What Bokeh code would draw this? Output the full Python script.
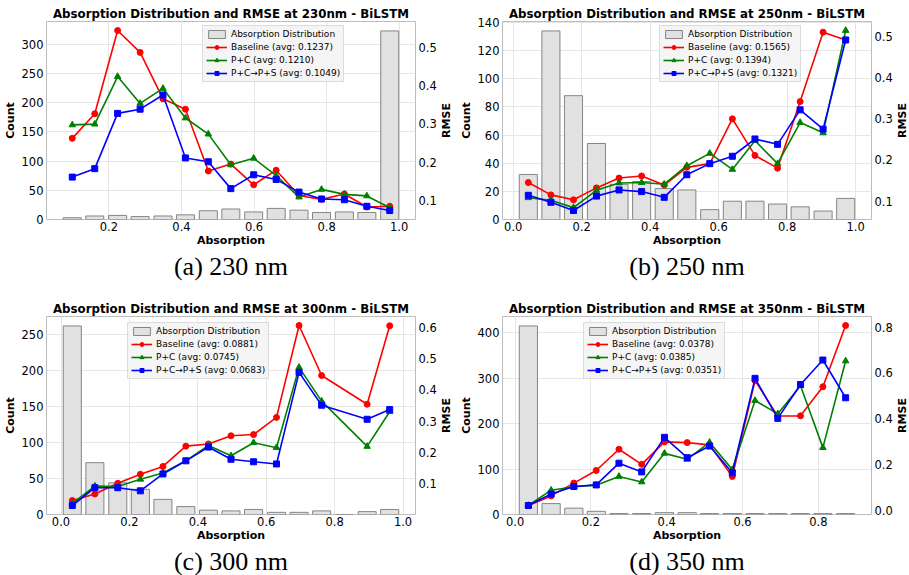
import math
from bokeh.plotting import figure
from bokeh.models import Range1d, LinearAxis, SingleIntervalTicker, Title, PrintfTickFormatter
from bokeh.core.properties import value
from bokeh.layouts import gridplot
from bokeh.embed import file_html
from bokeh.resources import INLINE

# ---------------- data ----------------
# (a) 230 nm
a_x = [0.099, 0.161, 0.224, 0.286, 0.349, 0.411, 0.474, 0.536, 0.599, 0.661, 0.724, 0.786, 0.849, 0.911, 0.974]
a_count = [3, 6, 7, 5, 6, 8, 15, 18, 13, 19, 16, 12, 13, 12, 323]
a_baseline = [0.262, 0.326, 0.543, 0.486, 0.365, 0.338, 0.177, 0.195, 0.141, 0.179, 0.113, 0.103, 0.117, 0.083, 0.085]
a_pc = [0.297, 0.299, 0.423, 0.353, 0.392, 0.315, 0.273, 0.193, 0.210, 0.165, 0.109, 0.129, 0.116, 0.112, 0.081]
a_pcps = [0.161, 0.183, 0.327, 0.338, 0.375, 0.211, 0.201, 0.131, 0.167, 0.155, 0.122, 0.104, 0.102, 0.085, 0.074]
a_avg = ["0.1237", "0.1210", "0.1049"]

# (b) 250 nm
b_x = [0.044, 0.110, 0.176, 0.243, 0.309, 0.375, 0.441, 0.507, 0.574, 0.640, 0.706, 0.772, 0.838, 0.905, 0.971]
b_count = [32, 134, 88, 54, 25, 27, 22, 21, 7, 13, 13, 11, 9, 6, 15]
b_baseline = [0.145, 0.115, 0.103, 0.132, 0.156, 0.161, 0.139, 0.182, 0.191, 0.300, 0.211, 0.180, 0.342, 0.511, 0.492]
b_pc = [0.108, 0.102, 0.084, 0.126, 0.144, 0.145, 0.141, 0.186, 0.216, 0.177, 0.247, 0.191, 0.291, 0.266, 0.515]
b_pcps = [0.114, 0.097, 0.077, 0.112, 0.127, 0.123, 0.109, 0.164, 0.191, 0.209, 0.251, 0.238, 0.322, 0.275, 0.492]
b_avg = ["0.1565", "0.1394", "0.1321"]

# (c) 300 nm  (bin at 0.829 is empty: no RMSE values)
nan = float("nan")
c_x = [0.033, 0.099, 0.166, 0.232, 0.298, 0.365, 0.431, 0.497, 0.563, 0.630, 0.696, 0.762, 0.829, 0.895, 0.961]
c_count = [262, 72, 44, 35, 21, 11, 6, 5, 7, 3, 3, 5, 0, 4, 7]
c_baseline = [0.046, 0.067, 0.101, 0.130, 0.155, 0.220, 0.227, 0.253, 0.257, 0.312, 0.606, 0.446, nan, 0.354, 0.605]
c_pc = [0.037, 0.092, 0.091, 0.114, 0.134, 0.173, 0.222, 0.189, 0.231, 0.215, 0.472, 0.364, nan, 0.219, 0.330]
c_pcps = [0.030, 0.087, 0.087, 0.077, 0.131, 0.173, 0.217, 0.178, 0.170, 0.163, 0.456, 0.351, nan, 0.306, 0.337]
c_avg = ["0.0881", "0.0745", "0.0683"]

# (d) 350 nm
d_x = [0.035, 0.095, 0.155, 0.214, 0.274, 0.334, 0.394, 0.454, 0.513, 0.573, 0.633, 0.693, 0.753, 0.812, 0.872]
d_count = [415, 24, 14, 7, 2, 2, 4, 4, 2, 2, 2, 2, 2, 2, 2]
d_baseline = [0.020, 0.062, 0.118, 0.173, 0.266, 0.200, 0.298, 0.295, 0.285, 0.147, 0.566, 0.411, 0.412, 0.539, 0.807]
d_pc = [0.020, 0.087, 0.102, 0.109, 0.147, 0.123, 0.248, 0.222, 0.296, 0.177, 0.479, 0.421, 0.544, 0.273, 0.652]
d_pcps = [0.020, 0.070, 0.103, 0.110, 0.205, 0.167, 0.318, 0.229, 0.280, 0.163, 0.576, 0.401, 0.549, 0.656, 0.491]
d_avg = ["0.0378", "0.0385", "0.0351"]

wavelengths = ["230", "250", "300", "350"]
captions = ["(a) 230 nm", "(b) 250 nm", "(c) 300 nm", "(d) 350 nm"]
right_label = "RMSE"

SANS = "DejaVu Sans"
FW = 369
LABEL_W = 14


def make_panel(wl, caption, xs, counts, base, pc, pcps, avgs,
               count_step, rmse_step, legend_left, legend_top,
               border_left, frame_h, border_bottom):
    step = xs[1] - xs[0]
    w = 0.8 * step
    lo = xs[0] - w / 2
    hi = xs[-1] + w / 2
    pad = 0.05 * (hi - lo)
    allr = [v for v in base + pc + pcps if not math.isnan(v)]
    rlo, rhi = min(allr), max(allr)
    rpad = 0.05 * (rhi - rlo)

    p = figure(frame_width=FW, frame_height=frame_h,
               x_range=Range1d(lo - pad, hi + pad),
               y_range=Range1d(0, 1.05 * max(counts)),
               output_backend="svg", toolbar_location=None,
               min_border_left=border_left, min_border_right=22,
               min_border_top=21, min_border_bottom=border_bottom,
               title="Absorption Distribution and RMSE at %snm - BiLSTM" % wl)
    p.extra_y_ranges = {"rmse": Range1d(rlo - rpad, rhi + rpad)}

    p.title.align = "center"
    p.title.text_font = SANS
    p.title.text_font_size = "11.8px"
    p.title.text_font_style = "bold"
    p.title.text_color = "black"
    p.title.standoff = 1
    p.title.offset = 0

    p.outline_line_color = "#bdbdbd"
    p.outline_line_width = 1
    p.background_fill_color = "white"

    p.vbar(x=xs, top=counts, bottom=0, width=w,
           fill_color="#e1e1e1", line_color="#858585", line_width=1,
           legend_label="Absorption Distribution")

    series = [(base, "#ff0000", "circle", 6, "Baseline (avg: %s)" % avgs[0]),
              (pc, "#008000", "triangle", 6.5, "P+C (avg: %s)" % avgs[1]),
              (pcps, "#0000ff", "square", 6, "P+C\u2192P+S (avg: %s)" % avgs[2])]
    for ys, col, mk, sz, lab in series:
        px = [x for x, y in zip(xs, ys) if not math.isnan(y)]
        py = [y for y in ys if not math.isnan(y)]
        p.line(px, py, line_color=col, line_width=1.6, y_range_name="rmse",
               legend_label=lab)
        p.scatter(px, py, marker=mk, size=sz, fill_color=col, line_color=col,
                  y_range_name="rmse", legend_label=lab)

    ax_r = LinearAxis(y_range_name="rmse",
                      ticker=SingleIntervalTicker(interval=rmse_step, num_minor_ticks=0),
                      formatter=PrintfTickFormatter(format="%.1f"))
    p.add_layout(ax_r, "right")

    p.xaxis.ticker = SingleIntervalTicker(interval=0.2, num_minor_ticks=0)
    p.xaxis.formatter = PrintfTickFormatter(format="%.1f")
    p.yaxis[0].ticker = SingleIntervalTicker(interval=count_step, num_minor_ticks=0)
    p.xaxis.axis_label = "Absorption"
    p.yaxis[0].axis_label = "Count"

    for ax in p.axis:
        ax.axis_line_color = None
        ax.major_tick_out = 0
        ax.major_tick_in = 0
        ax.minor_tick_out = 0
        ax.minor_tick_in = 0
        ax.major_label_text_font = SANS
        ax.major_label_text_font_size = "11.5px"
        ax.major_label_text_color = "black"
        ax.major_label_standoff = 3
        ax.axis_label_text_font = SANS
        ax.axis_label_text_font_size = "11px"
        ax.axis_label_text_font_style = "bold"
        ax.axis_label_text_color = "black"
        ax.axis_label_standoff = 2
    p.xaxis.axis_label_standoff = 0
    p.xaxis.major_label_standoff = 2

    p.xgrid.grid_line_color = "#e6e6e6"
    p.ygrid.grid_line_color = "#e6e6e6"
    p.xgrid.grid_line_width = 1
    p.ygrid.grid_line_width = 1

    lg = p.legend[0]
    lg.location = (legend_left, frame_h - legend_top - 55)
    lg.margin = 0
    lg.padding = 3
    lg.spacing = 3
    lg.glyph_width = 21
    lg.glyph_height = 10
    lg.label_height = 10
    lg.label_standoff = 4
    lg.label_text_font = SANS
    lg.label_text_font_size = "9px"
    lg.label_text_color = "black"
    lg.background_fill_color = "#f4f4f4"
    lg.background_fill_alpha = 0.92
    lg.border_line_color = "#c4c4c4"
    lg.border_line_width = 1

    cap = Title(text=caption, align="center", text_font="Liberation Serif",
                text_font_size="26px", text_font_style="normal",
                text_color="black", standoff=0, offset=0)
    p.add_layout(cap, "below")

    # narrow strip carrying the right-axis title, reading bottom-to-top
    q = figure(frame_width=LABEL_W, frame_height=frame_h,
               x_range=Range1d(0, 1), y_range=Range1d(0, 1),
               x_axis_type=None, y_axis_type=None,
               output_backend="svg", toolbar_location=None,
               min_border_left=0, min_border_right=0,
               min_border_top=21, min_border_bottom=border_bottom)
    q.outline_line_color = None
    q.grid.visible = False
    q.text(x=[0.5], y=[0.5], text=[right_label], angle=math.pi / 2,
           text_align="center", text_baseline="middle",
           text_font=value(SANS), text_font_size=value("11px"),
           text_font_style="bold", text_color="black")
    return p, q


pa, la = make_panel(wavelengths[0], captions[0], a_x, a_count, a_baseline, a_pc, a_pcps, a_avg,
                    50, 0.1, 156, 6, 46, 198, 76)
pb, lb = make_panel(wavelengths[1], captions[1], b_x, b_count, b_baseline, b_pc, b_pcps, b_avg,
                    20, 0.1, 157, 6, 49, 198, 76)
pc_, lc = make_panel(wavelengths[2], captions[2], c_x, c_count, c_baseline, c_pc, c_pcps, c_avg,
                     50, 0.1, 81, 8, 46, 198, 60)
pd_, ld = make_panel(wavelengths[3], captions[3], d_x, d_count, d_baseline, d_pc, d_pcps, d_avg,
                     100, 0.2, 81, 8, 49, 198, 60)

grid = gridplot([[pa, la, pb, lb], [pc_, lc, pd_, ld]], toolbar_location=None)

open("out.html", "w").write(file_html(grid, INLINE))
